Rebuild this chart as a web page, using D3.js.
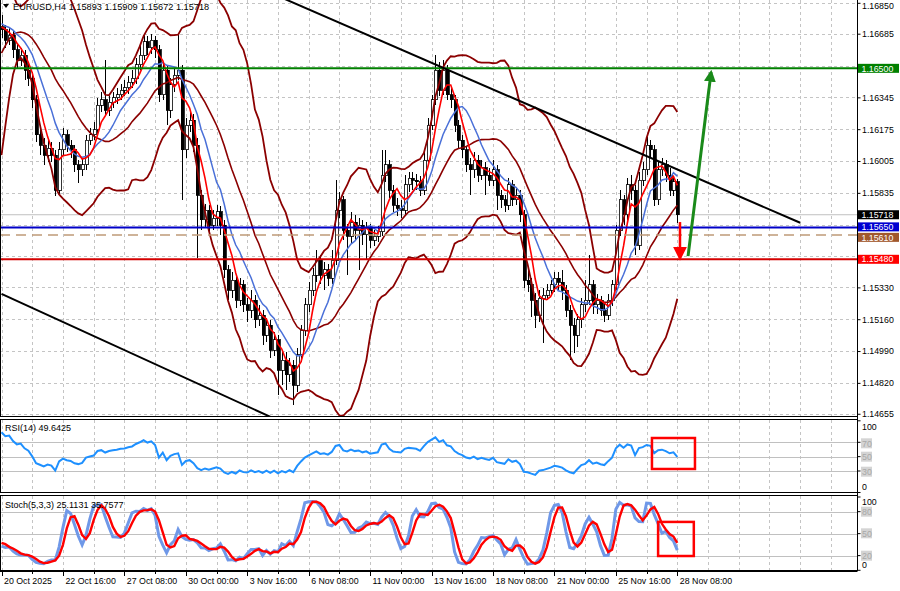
<!DOCTYPE html>
<html><head><meta charset="utf-8">
<script src="https://cdnjs.cloudflare.com/ajax/libs/d3/7.8.5/d3.min.js"></script>
<style>body{margin:0;background:#fff}svg{display:block;font-family:"Liberation Sans",Arial,sans-serif}</style>
</head><body><svg id="c" width="900" height="591"></svg>
<script>
// ---------- DATA (EURUSD H4) ----------
const warmClose=[1.15850,1.15984,1.16144,1.16331,1.16491,1.16598,1.16651,1.16705,1.16731,1.16758,1.16785,1.16758,1.16731,1.16769,1.16747,1.16715,1.16758,1.16705,1.16721];
const warmHigh=[1.15903,1.16010,1.16171,1.16357,1.16518,1.16625,1.16694,1.16731,1.16769,1.16801,1.16822,1.16812,1.16785,1.16801,1.16790,1.16780,1.16790,1.16769,1.16758];
const warmLow=[1.15797,1.15823,1.15957,1.16117,1.16304,1.16464,1.16571,1.16625,1.16678,1.16705,1.16731,1.16715,1.16694,1.16705,1.16715,1.16683,1.16694,1.16673,1.16673];

const close=[
1.16705,1.16651,1.16678,1.16598,1.16544,1.16571,1.16491,1.16448,1.16331,1.16144,
1.16090,1.16037,1.16074,1.16037,1.15850,1.16064,1.16144,1.16090,1.16064,1.15984,
1.15957,1.15984,1.16117,1.16144,1.16171,1.16304,1.16331,1.16277,1.16320,1.16342,
1.16358,1.16384,1.16395,1.16427,1.16448,1.16518,1.16571,1.16641,1.16609,1.16651,
1.16598,1.16358,1.16491,1.16277,1.16411,1.16464,1.16491,1.16064,1.16197,1.16224,
1.16090,1.15823,1.15690,1.15743,1.15663,1.15700,1.15733,1.15663,1.15423,1.15316,
1.15369,1.15262,1.15343,1.15236,1.15209,1.15262,1.15156,1.15182,1.15075,1.15129,
1.14995,1.15049,1.14888,1.14942,1.14862,1.14915,1.14808,1.14969,1.15102,1.15236,
1.15316,1.15396,1.15476,1.15396,1.15423,1.15380,1.15476,1.15743,1.15797,1.15636,
1.15604,1.15679,1.15636,1.15663,1.15610,1.15647,1.15583,1.15604,1.15626,1.15930,
1.15984,1.15850,1.15770,1.15754,1.15743,1.15877,1.15914,1.15903,1.15893,1.15850,
1.16010,1.16197,1.16331,1.16491,1.16384,1.16491,1.16358,1.16331,1.16197,1.16117,
1.16064,1.15984,1.15957,1.16010,1.15930,1.15968,1.15930,1.15903,1.15957,1.15823,
1.15797,1.15770,1.15877,1.15797,1.15823,1.15717,1.15369,1.15343,1.15262,1.15182,
1.15273,1.15289,1.15316,1.15343,1.15380,1.15358,1.15316,1.15209,1.15129,1.15075,
1.15156,1.15236,1.15262,1.15343,1.15236,1.15262,1.15209,1.15182,1.15262,1.15343,
1.15636,1.15797,1.15717,1.15877,1.15850,1.15556,1.15903,1.15957,1.16090,1.16064,
1.15797,1.15957,1.15984,1.15930,1.15850,1.15893,1.15718];

const high=[
1.16785,1.16731,1.16715,1.16705,1.16630,1.16609,1.16598,1.16523,1.16480,1.16357,
1.16181,1.16128,1.16117,1.16106,1.16064,1.16106,1.16181,1.16171,1.16117,1.16090,
1.16010,1.16021,1.16144,1.16181,1.16213,1.16342,1.16374,1.16545,1.16352,1.16374,
1.16395,1.16416,1.16438,1.16459,1.16491,1.16555,1.16625,1.16678,1.16673,1.16683,
1.16673,1.16625,1.16534,1.16518,1.16448,1.16502,1.16689,1.16518,1.16235,1.16277,
1.16256,1.16128,1.15850,1.15775,1.15770,1.15743,1.15770,1.15765,1.15690,1.15449,
1.15412,1.15396,1.15380,1.15369,1.15273,1.15316,1.15289,1.15236,1.15209,1.15166,
1.15156,1.15092,1.15075,1.14995,1.14985,1.14953,1.14942,1.15006,1.15129,1.15273,
1.15358,1.15433,1.15530,1.15503,1.15465,1.15455,1.15530,1.15903,1.15839,1.15818,
1.15668,1.15733,1.15717,1.15700,1.15690,1.15679,1.15668,1.15636,1.15657,1.16064,
1.16064,1.16010,1.15877,1.15807,1.15797,1.15930,1.15946,1.15946,1.15935,1.15925,
1.16053,1.16235,1.16357,1.16571,1.16534,1.16545,1.16518,1.16395,1.16357,1.16224,
1.16144,1.16085,1.16021,1.16053,1.16037,1.16010,1.16000,1.15968,1.16010,1.15984,
1.15850,1.15823,1.15914,1.15903,1.15861,1.15850,1.15743,1.15433,1.15380,1.15300,
1.15316,1.15326,1.15348,1.15369,1.15412,1.15412,1.15423,1.15343,1.15236,1.15166,
1.15188,1.15273,1.15369,1.15503,1.15369,1.15295,1.15284,1.15241,1.15295,1.15369,
1.15663,1.15850,1.15823,1.15914,1.15930,1.15877,1.15946,1.16000,1.16133,1.16117,
1.16090,1.16000,1.16021,1.16010,1.15968,1.15925,1.15909];

const low=[
1.16662,1.16609,1.16625,1.16555,1.16502,1.16512,1.16438,1.16406,1.16288,1.16106,
1.16037,1.15984,1.16000,1.16000,1.15818,1.15829,1.16037,1.16053,1.16021,1.15946,
1.15887,1.15925,1.15957,1.16090,1.16117,1.16144,1.16267,1.16245,1.16245,1.16288,
1.16309,1.16331,1.16352,1.16363,1.16395,1.16416,1.16491,1.16545,1.16571,1.16577,
1.16555,1.16320,1.16331,1.16197,1.16235,1.16374,1.16438,1.15797,1.16021,1.16160,
1.16053,1.15487,1.15636,1.15647,1.15626,1.15636,1.15657,1.15610,1.15380,1.15262,
1.15273,1.15220,1.15230,1.15198,1.15145,1.15166,1.15113,1.15123,1.15022,1.15038,
1.14953,1.14963,1.14755,1.14808,1.14782,1.14824,1.14701,1.14771,1.14931,1.15070,
1.15198,1.15284,1.15358,1.15348,1.15316,1.15337,1.15348,1.15449,1.15700,1.15583,
1.15396,1.15562,1.15583,1.15423,1.15556,1.15476,1.15540,1.15551,1.15572,1.15604,
1.15893,1.15807,1.15733,1.15711,1.15700,1.15717,1.15839,1.15850,1.15850,1.15818,
1.15823,1.15984,1.16171,1.16304,1.16352,1.16357,1.16331,1.16288,1.16160,1.16074,
1.16021,1.15946,1.15823,1.15914,1.15893,1.15903,1.15823,1.15871,1.15871,1.15743,
1.15754,1.15733,1.15743,1.15765,1.15770,1.15679,1.15326,1.15305,1.15172,1.15113,
1.15145,1.15033,1.15262,1.15284,1.15305,1.15316,1.15262,1.15172,1.14942,1.14979,
1.15011,1.15113,1.15198,1.15236,1.15188,1.15188,1.15177,1.15145,1.15156,1.15230,
1.15316,1.15604,1.15663,1.15690,1.15797,1.15503,1.15530,1.15871,1.15930,1.16021,
1.15765,1.15770,1.15925,1.15893,1.15818,1.15818,1.15672];

const timeLabels=["20 Oct 2025","22 Oct 16:00","27 Oct 08:00","30 Oct 00:00","3 Nov 16:00","6 Nov 08:00","11 Nov 00:00","13 Nov 16:00","18 Nov 08:00","21 Nov 00:00","25 Nov 16:00","28 Nov 08:00"];
const priceTicks=[1.16850,1.16685,1.16515,1.16345,1.16175,1.16005,1.15835,1.15665,1.15495,1.15330,1.15160,1.14990,1.14820,1.14655];
const hiddenTickLabels=[1.16515,1.15665,1.15495];
const rsiTicks=[100,70,50,30,0];
const stochTicks=[100,80,50,20,0];
const levelGreen=1.16500, levelBlue=1.15650, levelTan=1.15610, levelRed=1.15480, bidPrice=1.15718;
const upperTrend=[[60,1.16993],[208,1.15675]];
const lowerTrend=[[0,1.15295],[80,1.14545]];
const upArrow=[[178.8,1.15497],[184.8,1.16480]];
const downArrow=[[176.7,1.15679],[176.7,1.15487]];
const rsiBox=[[169.4,76],[180.6,32.8]];
const stochBox=[[171,66],[180.3,19.5]];

// ---------- INDICATORS ----------
const W=warmClose.length, N=close.length;
const C=warmClose.concat(close), H=warmHigh.concat(high), L=warmLow.concat(low);
function sma(a,n){return a.map((_,k)=>k<n-1?null:d3.mean(a.slice(k-n+1,k+1)));}
function sd(a,n){return a.map((_,k)=>k<n-1?null:d3.deviation(a.slice(k-n+1,k+1))*Math.sqrt((n-1)/n));}
const ma5=sma(C,5), ma10=sma(C,10), mid=sma(C,20), dev=sd(C,20);
const bbU=mid.map((m,k)=>m==null?null:m+2*dev[k]), bbL=mid.map((m,k)=>m==null?null:m-2*dev[k]);
const rsi=C.map(()=>null);
(function(){const n=14;let g=0,l=0;for(let k=1;k<=n;k++){const d=C[k]-C[k-1];if(d>0)g+=d;else l-=d;}g/=n;l/=n;rsi[n]=100-100/(1+g/l);
for(let k=n+1;k<C.length;k++){const d=C[k]-C[k-1];g=(g*(n-1)+Math.max(d,0))/n;l=(l*(n-1)+Math.max(-d,0))/n;rsi[k]=l===0?100:100-100/(1+g/l);}})();
const num=C.map((c,k)=>k<4?null:c-d3.min(L.slice(k-4,k+1)));
const den=C.map((c,k)=>k<4?null:d3.max(H.slice(k-4,k+1))-d3.min(L.slice(k-4,k+1)));
const stK=C.map((c,k)=>k<6?null:100*d3.sum(num.slice(k-2,k+1))/d3.sum(den.slice(k-2,k+1)));
const stD=stK.map((v,k)=>k<8?null:d3.mean(stK.slice(k-2,k+1)));
const vis=a=>a.slice(W);

// ---------- SCALES ----------
const svg=d3.select("#c");
const R=857.5;
const x=d3.scaleLinear().domain([0,222.8]).range([1.5,857]);
const yM=d3.scaleLinear().domain([1.14643,1.16865]).range([416,0]);
const yR=d3.scaleLinear().domain([0,100]).range([492.5,420.8]);
const yS=d3.scaleLinear().domain([0,100]).range([570.3,497]);

const defs=svg.append("defs");
[["cm",0,0,857,416],["cr",0,420,857,72],["cs",0,496,857,74]].forEach(([id,a,b,w,h])=>
  defs.append("clipPath").attr("id",id).append("rect").attr("x",a).attr("y",b).attr("width",w).attr("height",h));

// ---------- GRID ----------
const grid=svg.append("g").attr("stroke","#c4c4c4").attr("stroke-dasharray","3,3").attr("shape-rendering","crispEdges");
const gridIdx=d3.range(0,223,8);
[[0,416],[420,492],[496,570]].forEach(([a,b])=>{
  grid.selectAll(null).data(gridIdx).join("line").attr("x1",d=>Math.round(x(d))+0.5).attr("x2",d=>Math.round(x(d))+0.5).attr("y1",a).attr("y2",b);
});
grid.selectAll(null).data(priceTicks).join("line").attr("x1",0).attr("x2",R).attr("y1",d=>Math.round(yM(d))+0.5).attr("y2",d=>Math.round(yM(d))+0.5);

// ---------- MAIN PANEL ----------
const gm=svg.append("g").attr("clip-path","url(#cm)");
const hline=(v,col,w,dash)=>gm.append("line").attr("x1",0).attr("x2",R).attr("y1",yM(v)).attr("y2",yM(v)).attr("stroke",col).attr("stroke-width",w).attr("stroke-dasharray",dash||null);
hline(bidPrice,"#c0c0c0",1);

const cg=gm.append("g").attr("shape-rendering","crispEdges");
d3.range(N).forEach(i=>{
  const o=i===0?warmClose[W-1]:close[i-1], c=close[i];
  const cx=Math.round(x(i))+0.5;
  cg.append("line").attr("x1",cx).attr("x2",cx).attr("y1",yM(high[i])).attr("y2",yM(low[i])).attr("stroke","#000");
  const top=yM(Math.max(o,c)), bot=yM(Math.min(o,c));
  cg.append("rect").attr("x",cx-1.5).attr("y",top).attr("width",3).attr("height",Math.max(1,bot-top))
    .attr("fill",c>=o?"#ffffff":"#000").attr("stroke","#000").attr("stroke-width",0.8);
});

const line=(arr,ys)=>d3.line().defined(d=>d[1]!=null).x(d=>x(d[0])).y(d=>ys(d[1]))(arr.map((v,i)=>[i,v]));
[[vis(bbU),"#8b0000",1.8],[vis(bbL),"#8b0000",1.8],[vis(mid),"#8b0000",1.6],[vis(ma10),"#4a70d8",1.5],[vis(ma5),"#ff0000",1.6]]
  .forEach(([a,col,w])=>gm.append("path").attr("d",line(a,yM)).attr("fill","none").attr("stroke",col).attr("stroke-width",w));

hline(levelGreen,"#008000",2);
hline(levelTan,"#bf9a78",1.6,"10,6");
hline(levelBlue,"#0000c8",2);
hline(levelRed,"#d40000",2);

const seg=(p,col,w)=>gm.append("line").attr("x1",x(p[0][0])).attr("y1",yM(p[0][1])).attr("x2",x(p[1][0])).attr("y2",yM(p[1][1])).attr("stroke",col).attr("stroke-width",w);
seg(upperTrend,"#000",2);
seg(lowerTrend,"#000",2);

defs.append("marker").attr("id","ag").attr("viewBox","0 0 10 10").attr("refX",8).attr("refY",5).attr("markerWidth",4).attr("markerHeight",4).attr("orient","auto")
  .append("path").attr("d","M0,0L10,5L0,10Z").attr("fill","#1a8a1a");
defs.append("marker").attr("id","ar").attr("viewBox","0 0 10 10").attr("refX",8).attr("refY",5).attr("markerWidth",6).attr("markerHeight",5.5).attr("orient","auto")
  .append("path").attr("d","M0,0L10,5L0,10Z").attr("fill","#ff0000");
seg(upArrow,"#1a8a1a",3).attr("marker-end","url(#ag)");
seg(downArrow,"#ff0000",2.5).attr("marker-end","url(#ar)");

svg.append("path").attr("d","M3,4L9,4L6,8Z").attr("fill","#000");
svg.append("text").attr("x",13).attr("y",10).attr("font-size",9.2).attr("fill","#000").text("EURUSD,H4  1.15893 1.15909 1.15672 1.15718");

// ---------- RSI PANEL ----------
const gr=svg.append("g").attr("clip-path","url(#cr)");
[70,50,30].forEach(v=>gr.append("line").attr("x1",0).attr("x2",R).attr("y1",Math.round(yR(v))+0.5).attr("y2",Math.round(yR(v))+0.5).attr("stroke","#c0c0c0"));
gr.append("path").attr("d",line(vis(rsi),yR)).attr("fill","none").attr("stroke","#1e90ff").attr("stroke-width",2);
svg.append("rect").attr("x",x(rsiBox[0][0])).attr("y",yR(rsiBox[0][1])).attr("width",x(rsiBox[1][0])-x(rsiBox[0][0])).attr("height",yR(rsiBox[1][1])-yR(rsiBox[0][1]))
  .attr("fill","none").attr("stroke","#ff0000").attr("stroke-width",2.5);
svg.append("text").attr("x",5).attr("y",431).attr("font-size",9).text("RSI(14) 49.6425");

// ---------- STOCH PANEL ----------
const gs=svg.append("g").attr("clip-path","url(#cs)");
[80,50,20].forEach(v=>gs.append("line").attr("x1",0).attr("x2",R).attr("y1",Math.round(yS(v))+0.5).attr("y2",Math.round(yS(v))+0.5).attr("stroke","#c0c0c0"));
gs.append("path").attr("d",line(vis(stK),yS)).attr("fill","none").attr("stroke","#6f98e8").attr("stroke-width",3);
gs.append("path").attr("d",line(vis(stD),yS)).attr("fill","none").attr("stroke","#ff0000").attr("stroke-width",2.4);
svg.append("rect").attr("x",x(stochBox[0][0])).attr("y",yS(stochBox[0][1])).attr("width",x(stochBox[1][0])-x(stochBox[0][0])).attr("height",yS(stochBox[1][1])-yS(stochBox[0][1]))
  .attr("fill","none").attr("stroke","#ff0000").attr("stroke-width",2.5);
svg.append("text").attr("x",5).attr("y",508).attr("font-size",9).text("Stoch(5,3,3) 25.1131 35.7577");

// ---------- FRAMES ----------
const fr=svg.append("g").attr("fill","none").attr("stroke","#000").attr("shape-rendering","crispEdges");
fr.append("line").attr("x1",0.5).attr("x2",0.5).attr("y1",0).attr("y2",416.5);
fr.append("line").attr("x1",0).attr("x2",R).attr("y1",416.5).attr("y2",416.5);
fr.append("rect").attr("x",0.5).attr("y",419.5).attr("width",R-0.5).attr("height",73);
fr.append("rect").attr("x",0.5).attr("y",495.5).attr("width",R-0.5).attr("height",75);
fr.append("line").attr("x1",R).attr("x2",R).attr("y1",0).attr("y2",571);

// ---------- AXES ----------
const ax=svg.append("g").attr("transform",`translate(${R},0)`)
  .call(d3.axisRight(yM).tickValues(priceTicks).tickSize(3).tickFormat(d=>hiddenTickLabels.includes(d)?"":d3.format(".5f")(d)));
ax.select(".domain").remove();
ax.selectAll("text").attr("font-size",8.8).attr("font-family","Liberation Sans, Arial").attr("x",4.5).attr("fill","#000")
  .attr("dy",function(d){const yy=yM(d);return yy<5?(5-yy+3.2)+"px":"0.32em";});

const lab=(v,txt,col,shift)=>{const yy=yM(v)+(shift||0);
  svg.append("rect").attr("x",858).attr("y",yy-4.5).attr("width",41).attr("height",9).attr("fill",col);
  svg.append("text").attr("x",861.5).attr("y",yy+3.2).attr("font-size",8.8).attr("fill","#fff").text(txt);};
lab(levelGreen,"1.16500","#008000");
lab(levelTan,"1.15610","#a0582d",2.4);
lab(levelBlue,"1.15650","#0000d0",-0.6);
lab(bidPrice,"1.15718","#000");
lab(levelRed,"1.15480","#ff0000");

const subLab=(ys,vals,pos,boxed)=>vals.forEach((v,j)=>{
  const yy=pos[j];
  if(boxed.includes(v)) svg.append("rect").attr("x",861).attr("y",yy-5).attr("width",11).attr("height",10).attr("fill","#d4d4d4");
  svg.append("text").attr("x",862).attr("y",yy+3.2).attr("font-size",8.8).attr("fill",boxed.includes(v)?"#a8a8a8":"#000").text(v);
  svg.append("line").attr("x1",R).attr("x2",R+3).attr("y1",ys(v)).attr("y2",ys(v)).attr("stroke","#000");
});
subLab(yR,rsiTicks,[426.7,443.3,456.7,471.7,486.7],[70,50,30]);
subLab(yS,stochTicks,[502,511.7,533.3,555.7,564.3],[80,50,20]);

const tx=svg.append("g").attr("transform","translate(0,571)");
tx.append("line").attr("x1",0).attr("x2",R).attr("y1",0.5).attr("y2",0.5).attr("stroke","#000");
const labIdx=d3.range(0,177,16);
tx.selectAll(null).data(d3.range(8,177,16)).join("line").attr("x1",d=>Math.round(x(d))+0.5).attr("x2",d=>Math.round(x(d))+0.5).attr("y1",0).attr("y2",3).attr("stroke","#000");
tx.selectAll(null).data(labIdx).join("line").attr("x1",d=>Math.round(x(d))+0.5).attr("x2",d=>Math.round(x(d))+0.5).attr("y1",0).attr("y2",5).attr("stroke","#000");
tx.selectAll(null).data(labIdx).join("text").attr("x",d=>x(d)+2.5).attr("y",12.5).attr("font-size",8.8).attr("fill","#000").text((d,j)=>timeLabels[j]);
</script></body></html>
